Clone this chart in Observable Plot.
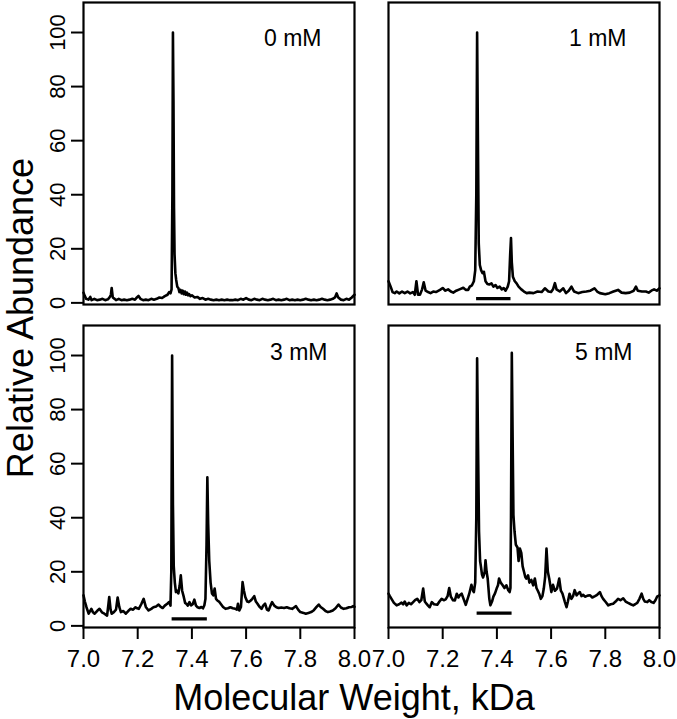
<!DOCTYPE html>
<html>
<head>
<meta charset="utf-8">
<script src="https://cdn.jsdelivr.net/npm/d3@7"></script>
<script src="https://cdn.jsdelivr.net/npm/@observablehq/plot@0.6"></script>
<style>
  html, body { margin: 0; padding: 0; background: #fff; }
  #wrap { position: relative; width: 677px; height: 719px; font-family: "Liberation Sans", Arial, Helvetica, sans-serif; color: #000; }
  .ytitle { position: absolute; left: 2.5px; top: 317.5px; transform-origin: 0 0; transform: rotate(-90deg) translateX(-50%); font-size: 36px; line-height: 36px; white-space: nowrap; }
  .xtitle { position: absolute; left: 354px; top: 679.5px; transform: translateX(-50%); font-size: 36px; line-height: 36px; white-space: nowrap; }
</style>
</head>
<body>
<div id="wrap"></div>
<script>
// ---- data (x in kDa, y = relative abundance) ----
const panels = ["0 mM", "1 mM", "3 mM", "5 mM"];
const xTicks = [7.0, 7.2, 7.4, 7.6, 7.8, 8.0];
const yTicks = [0, 20, 40, 60, 80, 100];

const mm0 = [
[7.000,3.8],[7.005,2.5],[7.010,1.5],[7.018,1.2],[7.025,2.2],[7.030,1.0],[7.040,1.5],[7.050,1.0],[7.060,1.2],[7.070,1.5],[7.080,1.0],[7.090,1.3],[7.096,2.0],[7.101,3.0],[7.104,5.5],[7.108,2.0],[7.115,1.5],[7.120,1.0],[7.130,1.5],[7.140,1.0],[7.150,1.2],[7.160,1.0],[7.170,1.2],[7.180,1.5],[7.190,1.2],[7.197,2.0],[7.203,2.6],[7.210,1.5],[7.220,1.0],[7.230,1.2],[7.240,1.0],[7.250,1.5],[7.260,1.2],[7.270,1.5],[7.280,2.0],[7.290,1.8],[7.300,2.5],[7.310,3.0],[7.316,4.0],[7.321,3.5],[7.325,5.0],[7.328,40],[7.330,100],[7.332,75],[7.334,35],[7.336,18],[7.339,11],[7.342,8.5],[7.346,6],[7.350,5.5],[7.354,4],[7.358,4.8],[7.362,3.5],[7.366,4.5],[7.370,3.2],[7.374,4.2],[7.378,3],[7.382,3.8],[7.386,2.8],[7.390,3.2],[7.395,2.5],[7.400,2.8],[7.410,2.0],[7.420,2.2],[7.430,1.5],[7.440,1.8],[7.450,1.2],[7.460,1.5],[7.470,1.2],[7.480,1.0],[7.490,1.2],[7.500,1.0],[7.510,1.2],[7.520,1.0],[7.530,1.2],[7.540,1.0],[7.550,1.0],[7.560,1.2],[7.570,1.0],[7.580,1.5],[7.590,1.2],[7.600,1.8],[7.610,1.2],[7.620,1.0],[7.630,1.5],[7.640,1.2],[7.650,1.0],[7.660,1.5],[7.670,1.2],[7.680,1.0],[7.690,1.2],[7.700,1.5],[7.710,1.0],[7.720,1.2],[7.730,1.0],[7.740,1.2],[7.750,1.5],[7.760,1.0],[7.770,1.2],[7.780,1.0],[7.790,1.2],[7.800,1.0],[7.810,1.2],[7.820,1.5],[7.830,1.2],[7.840,1.0],[7.850,1.2],[7.860,1.0],[7.870,1.2],[7.880,1.5],[7.890,1.2],[7.900,1.0],[7.910,1.2],[7.920,1.5],[7.928,2.0],[7.934,3.5],[7.940,2.0],[7.950,1.2],[7.960,1.0],[7.970,1.5],[7.980,1.2],[7.990,2.0],[8.000,3.0]
];

const mm1 = [
[7.000,8],[7.008,6],[7.015,4],[7.023,3.6],[7.030,4.2],[7.040,3.5],[7.050,4.2],[7.060,3.6],[7.070,4.2],[7.080,3.5],[7.090,4],[7.097,3],[7.103,8],[7.109,3],[7.116,3],[7.124,5],[7.130,7.6],[7.137,4.5],[7.146,4],[7.155,3.6],[7.165,4.2],[7.175,4],[7.190,4.8],[7.200,5.5],[7.210,4.5],[7.220,5],[7.230,4.2],[7.239,3.8],[7.250,4.5],[7.262,5],[7.276,5.6],[7.285,4.8],[7.294,4.8],[7.300,6],[7.308,6.5],[7.315,8],[7.320,12],[7.324,40],[7.327,100],[7.330,60],[7.333,22],[7.337,14],[7.342,12],[7.347,11],[7.352,11.5],[7.358,8],[7.365,7],[7.372,6.8],[7.380,7.2],[7.387,6],[7.395,6.6],[7.402,5.5],[7.410,6],[7.418,5],[7.425,5.5],[7.432,4.5],[7.440,6],[7.445,8],[7.449,18],[7.452,24],[7.455,15],[7.459,9.7],[7.466,8],[7.472,7.3],[7.480,6],[7.490,5],[7.500,4.2],[7.510,3.6],[7.520,3.8],[7.535,3.6],[7.550,4.2],[7.565,4],[7.577,5.4],[7.590,4.2],[7.600,4],[7.607,5],[7.614,7.3],[7.620,5],[7.632,4.2],[7.645,5.4],[7.655,3.6],[7.665,4.5],[7.675,6],[7.685,4.2],[7.700,3.6],[7.715,4],[7.730,4.2],[7.745,4.5],[7.760,5.4],[7.770,4.2],[7.780,3.6],[7.800,3.2],[7.815,3.6],[7.830,4.2],[7.847,4.8],[7.860,3.8],[7.875,3.6],[7.890,3.8],[7.905,4.5],[7.913,6],[7.920,4.5],[7.935,4.2],[7.950,4.2],[7.960,3.8],[7.970,4.5],[7.980,5],[7.990,4.5],[8.000,5.4]
];

const mm3 = [
[7.000,11.3],[7.005,9],[7.011,6.9],[7.019,4.5],[7.029,6.3],[7.035,5],[7.041,4.5],[7.050,5.5],[7.059,6.3],[7.068,5],[7.077,4.5],[7.087,3.8],[7.092,8],[7.095,10.7],[7.100,6],[7.104,4.5],[7.112,5.1],[7.120,6],[7.126,10.5],[7.132,7],[7.138,5.1],[7.147,5.5],[7.156,4.5],[7.165,5.5],[7.174,6.3],[7.183,6],[7.192,6.9],[7.198,6.5],[7.204,6.3],[7.213,8],[7.222,10],[7.230,7],[7.240,5.7],[7.250,6.3],[7.258,6.9],[7.268,7.2],[7.277,7.9],[7.285,7],[7.292,6.6],[7.300,7.5],[7.309,8.2],[7.316,8.8],[7.321,7.5],[7.324,20],[7.327,100],[7.330,45],[7.333,22],[7.337,16],[7.341,12.5],[7.345,13],[7.350,12],[7.355,15],[7.359,18.7],[7.364,13],[7.370,10.7],[7.375,8.5],[7.379,8.2],[7.385,7.5],[7.391,8.8],[7.397,7.6],[7.403,8],[7.409,9.7],[7.415,7.5],[7.421,6.9],[7.428,6.6],[7.435,7],[7.441,6.5],[7.446,7.6],[7.450,10],[7.454,30],[7.457,55],[7.460,38],[7.464,24],[7.469,16],[7.474,12],[7.479,11.3],[7.484,13.8],[7.489,10],[7.494,9.4],[7.500,9],[7.506,8.2],[7.515,7],[7.524,6.3],[7.533,6.5],[7.542,6.9],[7.551,6.5],[7.560,6.3],[7.566,6],[7.570,8.2],[7.575,5.7],[7.581,7],[7.587,16.2],[7.592,13],[7.597,10.7],[7.604,9],[7.610,8.8],[7.617,9.4],[7.623,10],[7.630,11],[7.636,9],[7.642,8.2],[7.650,7],[7.657,6.3],[7.663,7.5],[7.670,8.2],[7.677,6],[7.683,5.7],[7.690,7.5],[7.696,8.8],[7.704,7.5],[7.712,6.9],[7.720,6.6],[7.730,6.8],[7.740,6.6],[7.750,6.9],[7.760,6.5],[7.770,6.3],[7.777,6.8],[7.784,7.3],[7.792,6],[7.800,5.1],[7.812,4.8],[7.820,4.5],[7.830,4.8],[7.840,5.1],[7.850,5.8],[7.860,7],[7.868,7.9],[7.875,7],[7.884,6.3],[7.893,5.5],[7.902,5.1],[7.910,5.3],[7.920,5.7],[7.930,6.5],[7.941,7.9],[7.950,6.8],[7.960,6.3],[7.970,6.5],[7.980,6.9],[7.990,7],[7.995,7.3],[8.000,7]
];

const mm5 = [
[7.000,11.9],[7.005,11],[7.011,10],[7.020,8.5],[7.030,7.6],[7.039,8],[7.048,8.6],[7.054,8],[7.060,9],[7.067,7.6],[7.075,8.5],[7.083,8],[7.091,8.8],[7.098,9.5],[7.106,10],[7.114,8.8],[7.121,9.5],[7.128,13.8],[7.134,9],[7.140,8.2],[7.146,7.5],[7.152,6.9],[7.160,8.8],[7.168,8],[7.180,7.8],[7.188,9],[7.196,10],[7.204,9.5],[7.211,9.8],[7.218,11],[7.224,14],[7.230,10.8],[7.238,9.5],[7.245,9.4],[7.252,11.9],[7.258,10.5],[7.263,11.3],[7.270,11.9],[7.277,10],[7.285,7.8],[7.292,10],[7.298,11.9],[7.306,15.2],[7.312,13],[7.315,12.5],[7.320,16],[7.324,40],[7.327,99],[7.330,70],[7.334,35],[7.338,24],[7.341,22],[7.345,19],[7.349,17.9],[7.355,20],[7.358,24.3],[7.362,20],[7.366,17.5],[7.372,10],[7.376,7.6],[7.382,9],[7.387,10.8],[7.393,12],[7.399,13.8],[7.404,15],[7.408,17.5],[7.414,16],[7.420,15.2],[7.428,14],[7.435,15],[7.442,13.2],[7.447,12.5],[7.450,14],[7.452,40],[7.455,101],[7.458,70],[7.461,41],[7.465,35],[7.470,30],[7.476,29],[7.480,24],[7.485,28.6],[7.490,27],[7.495,22],[7.500,20],[7.505,18],[7.509,17.5],[7.515,18.7],[7.520,16],[7.527,17],[7.534,15],[7.540,17.5],[7.546,14],[7.551,13],[7.556,11.9],[7.562,10],[7.568,11],[7.573,13.8],[7.578,18],[7.583,28.6],[7.588,20],[7.593,17.5],[7.601,12.5],[7.607,15.2],[7.614,13],[7.622,13.8],[7.630,17.5],[7.636,13],[7.642,11.9],[7.651,8.8],[7.657,6.9],[7.662,9],[7.668,11.9],[7.675,10],[7.681,11],[7.687,13.2],[7.694,11.3],[7.700,12],[7.706,12.5],[7.712,11],[7.718,11.5],[7.725,10.8],[7.735,11.2],[7.744,11.3],[7.752,10.5],[7.762,11],[7.770,11.5],[7.780,12.5],[7.786,11],[7.792,10],[7.800,9],[7.811,7.6],[7.820,8],[7.829,8.2],[7.838,9],[7.847,10],[7.856,9.5],[7.866,10.2],[7.875,9],[7.884,8.5],[7.894,8],[7.903,7.6],[7.910,8],[7.918,8.5],[7.926,10],[7.934,11.9],[7.940,10],[7.946,9],[7.955,8.8],[7.962,9.5],[7.970,8.8],[7.978,8.5],[7.985,9.5],[7.991,10.8],[8.000,11.3]
];

// underline bars (adduct range) per panel
const barPanels = ["1 mM", "3 mM", "5 mM"];
const barStart = [7.325, 7.327, 7.327];
const barEnd = [7.452, 7.457, 7.456];
const barLevel = [1.6, 2.6, 4.7];

// ---- build tables ----
const series = [mm0, mm1, mm3, mm5];
const rows = panels.flatMap((p, i) => series[i].map(([x, y]) => ({panel: p, x, y})));
const bars = barPanels.map((p, i) => ({panel: p, x1: barStart[i], x2: barEnd[i], y: barLevel[i]}));
const labels = panels.map(p => ({panel: p}));

const col = d => (panels.indexOf(d.panel) % 2 ? "right" : "left");
const row = d => (panels.indexOf(d.panel) < 2 ? "top" : "bottom");

const chart = Plot.plot({
  width: 677,
  height: 676,
  marginLeft: 82,
  marginRight: 17,
  marginTop: 2,
  marginBottom: 48,
  style: {fontFamily: '"Liberation Sans", Arial, Helvetica, sans-serif', color: "#000", background: "#fff", overflow: "visible"},
  fx: {domain: ["left", "right"], paddingInner: 0.111, paddingOuter: 0, axis: null},
  fy: {domain: ["top", "bottom"], paddingInner: 0.065, paddingOuter: 0, axis: null},
  x: {domain: [7, 8]},
  y: {domain: [-0.6, 111.1]},
  marks: [
    Plot.frame({stroke: "#000", strokeWidth: 2.2}),
    Plot.line(rows, {x: "x", y: "y", fx: col, fy: row, stroke: "#000", strokeWidth: 2.6, strokeLinejoin: "round"}),
    Plot.ruleY(bars, {y: "y", x1: "x1", x2: "x2", fx: col, fy: row, stroke: "#000", strokeWidth: 3.2}),
    Plot.text(labels.filter(d => row(d) === "top"), {text: "panel", fx: col, fy: row, frameAnchor: "top-right", textAnchor: "end", lineAnchor: "top", dx: -33, dy: 27, fontSize: 23, fill: "#000"}),
    Plot.text(labels.filter(d => row(d) === "bottom"), {text: "panel", fx: col, fy: row, frameAnchor: "top-right", textAnchor: "end", lineAnchor: "top", dx: -27, dy: 18, fontSize: 23, fill: "#000"}),
    Plot.axisX({ticks: xTicks, tickFormat: d => d.toFixed(1), tickSize: 12, tickPadding: 10, fontSize: 24, strokeWidth: 2, label: null}),
    Plot.axisY({ticks: yTicks, tickSize: 12, tickRotate: -90, tickPadding: 7, fontSize: 22, strokeWidth: 2, label: null})
  ]
});

const wrap = document.getElementById("wrap");
wrap.appendChild(chart);
const yt = document.createElement("div");
yt.className = "ytitle";
yt.textContent = "Relative Abundance";
wrap.appendChild(yt);
const xt = document.createElement("div");
xt.className = "xtitle";
xt.textContent = "Molecular Weight, kDa";
wrap.appendChild(xt);
</script>
</body>
</html>
